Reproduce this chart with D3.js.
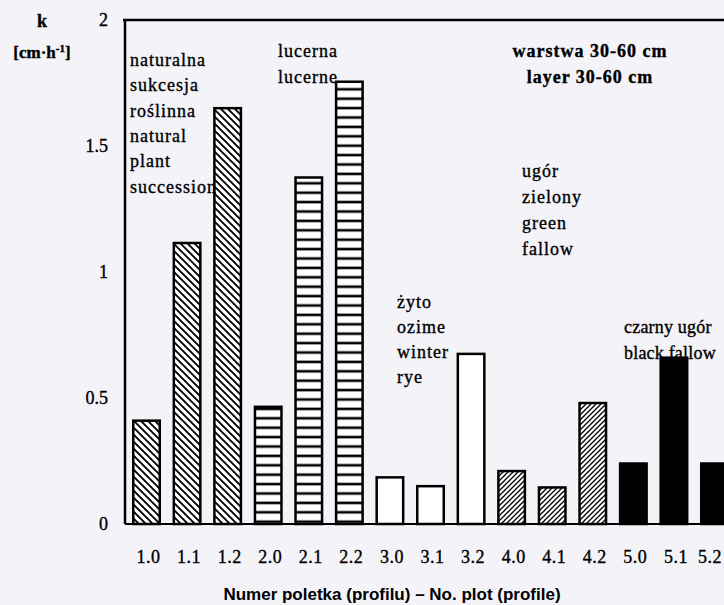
<!DOCTYPE html>
<html>
<head>
<meta charset="utf-8">
<script src="https://cdn.jsdelivr.net/npm/d3@7"></script>
<style>
  html, body { margin: 0; padding: 0; background: #f3f3f8; overflow: hidden; }
  svg { display: block; }
  .serif { font-family: 'Liberation Serif', serif; stroke: #000; stroke-width: 0.35px; }
</style>
</head>
<body>
<div id="chart"></div>
<script>
// plot numbers and their k values (cm/h)
const plots = ["1.0", "1.1", "1.2", "2.0", "2.1", "2.2", "3.0", "3.1", "3.2", "4.0", "4.1", "4.2", "5.0", "5.1", "5.2"];
const kValues = [0.415, 1.12, 1.655, 0.47, 1.38, 1.76, 0.19, 0.155, 0.68, 0.215, 0.15, 0.485, 0.245, 0.665, 0.245];
// which treatment each plot belongs to (decides the fill)
const treatments = ["succ", "succ", "succ", "luc", "luc", "luc", "rye", "rye", "rye", "green", "green", "green", "black", "black", "black"];
const yTicks = [0, 0.5, 1, 1.5, 2];
const yTickLabels = ["0", "0.5", "1", "1.5", "2"];

const width = 724, height = 605;
const axisX = 125;

const svg = d3.select("#chart")
  .append("svg")
  .attr("width", width)
  .attr("height", height);

// hatch patterns
const defs = svg.append("defs");

defs.append("pattern")
  .attr("id", "hatch-back")
  .attr("patternUnits", "userSpaceOnUse")
  .attr("width", 7).attr("height", 7)
  .call(p => {
    p.append("rect").attr("width", 7).attr("height", 7).attr("fill", "#fff");
    p.append("path")
      .attr("d", "M-1,-1 L8,8 M-4,3 L1,8 M3,-4 L8,1")
      .attr("stroke", "#000").attr("stroke-width", 1.9);
  });

defs.append("pattern")
  .attr("id", "hatch-horiz")
  .attr("patternUnits", "userSpaceOnUse")
  .attr("width", 10).attr("height", 9.4)
  .call(p => {
    p.append("rect").attr("width", 10).attr("height", 9.4).attr("fill", "#fff");
    p.append("line")
      .attr("x1", 0).attr("x2", 10).attr("y1", 4.7).attr("y2", 4.7)
      .attr("stroke", "#000").attr("stroke-width", 2.6);
  });

defs.append("pattern")
  .attr("id", "hatch-fwd")
  .attr("patternUnits", "userSpaceOnUse")
  .attr("width", 5).attr("height", 5)
  .call(p => {
    p.append("rect").attr("width", 5).attr("height", 5).attr("fill", "#fff");
    p.append("path")
      .attr("d", "M-1,6 L6,-1 M-3,3 L3,-3 M2,8 L8,2")
      .attr("stroke", "#000").attr("stroke-width", 1.3);
  });

const fills = {
  succ: "url(#hatch-back)",
  luc: "url(#hatch-horiz)",
  rye: "#fff",
  green: "url(#hatch-fwd)",
  black: "#000"
};

// scales
const x = d3.scaleBand()
  .domain(plots)
  .range([axisX, 736])
  .paddingInner(0.285)
  .paddingOuter(0.1725);

const y = d3.scaleLinear()
  .domain([0, 2])
  .range([524, 20]);

// bars
svg.selectAll("rect.bar")
  .data(plots)
  .enter()
  .append("rect")
  .attr("class", "bar")
  .attr("x", d => x(d) + 1.25)
  .attr("width", x.bandwidth() - 2.5)
  .attr("y", (d, i) => y(kValues[i]) + 1.25)
  .attr("height", (d, i) => y(0) - y(kValues[i]) - 1.25)
  .attr("fill", (d, i) => fills[treatments[i]])
  .attr("stroke", "#000")
  .attr("stroke-width", 2.5);

// frame: top line, left axis, baseline
svg.append("line")
  .attr("x1", axisX - 2).attr("x2", width)
  .attr("y1", y(2)).attr("y2", y(2))
  .attr("stroke", "#000").attr("stroke-width", 2.5);
svg.append("line")
  .attr("x1", axisX).attr("x2", axisX)
  .attr("y1", y(2)).attr("y2", y(0))
  .attr("stroke", "#000").attr("stroke-width", 2.5);
svg.append("line")
  .attr("x1", axisX).attr("x2", width)
  .attr("y1", y(0)).attr("y2", y(0))
  .attr("stroke", "#000").attr("stroke-width", 2);

// y tick labels
svg.append("g")
  .selectAll("text")
  .data(yTicks)
  .enter()
  .append("text")
  .attr("class", "serif")
  .attr("x", 108)
  .attr("y", d => y(d) + 6)
  .attr("text-anchor", "end")
  .style("font-size", "18px")
  .text((d, i) => yTickLabels[i]);

// x tick labels (last one is kept inside the page edge)
svg.append("g")
  .selectAll("text")
  .data(plots)
  .enter()
  .append("text")
  .attr("class", "serif")
  .attr("x", d => Math.min(x(d) + x.bandwidth() / 2 + 2, width - 14))
  .attr("y", 563)
  .attr("text-anchor", "middle")
  .style("font-size", "18px")
  .style("letter-spacing", "0.5px")
  .text(d => d);

// y axis unit
svg.append("text")
  .attr("class", "serif")
  .attr("x", 42).attr("y", 27)
  .attr("text-anchor", "middle")
  .style("font-size", "18px")
  .style("font-weight", "bold")
  .text("k");
const unit2 = svg.append("text")
  .attr("class", "serif")
  .attr("x", 42).attr("y", 58)
  .attr("text-anchor", "middle")
  .style("font-size", "17px")
  .style("font-weight", "bold");
unit2.append("tspan").text("[cm·h");
unit2.append("tspan").attr("dy", -6).style("font-size", "11px").text("-1");
unit2.append("tspan").attr("dy", 6).text("]");

// x axis title
svg.append("text")
  .attr("x", 392)
  .attr("y", 600)
  .attr("text-anchor", "middle")
  .style("font-family", "'Liberation Sans', Arial, sans-serif")
  .style("font-size", "17px")
  .style("font-weight", "bold")
  .text("Numer poletka (profilu) – No. plot (profile)");

// annotations inside the plot
function block(lines, xPos, yStart, step, anchor, bold, spacing) {
  svg.append("g")
    .selectAll("text")
    .data(lines)
    .enter()
    .append("text")
    .attr("class", "serif")
    .attr("x", xPos)
    .attr("y", (d, i) => yStart + i * step)
    .attr("text-anchor", anchor)
    .style("font-size", "18px")
    .style("font-weight", bold ? "bold" : "normal")
    .style("letter-spacing", spacing + "px")
    .text(d => d);
}

block(["naturalna", "sukcesja", "roślinna", "natural", "plant", "succession"], 130, 66, 25.3, "start", false, 1);
block(["lucerna", "lucerne"], 278, 57, 26, "start", false, 1);
block(["warstwa 30-60 cm", "layer 30-60 cm"], 590, 57, 26, "middle", true, 1);
block(["ugór", "zielony", "green", "fallow"], 522, 177, 26, "start", false, 1);
block(["żyto", "ozime", "winter", "rye"], 397, 308, 25, "start", false, 1);
block(["czarny ugór", "black fallow"], 624, 333, 26, "start", false, 0.2);
</script>
</body>
</html>
